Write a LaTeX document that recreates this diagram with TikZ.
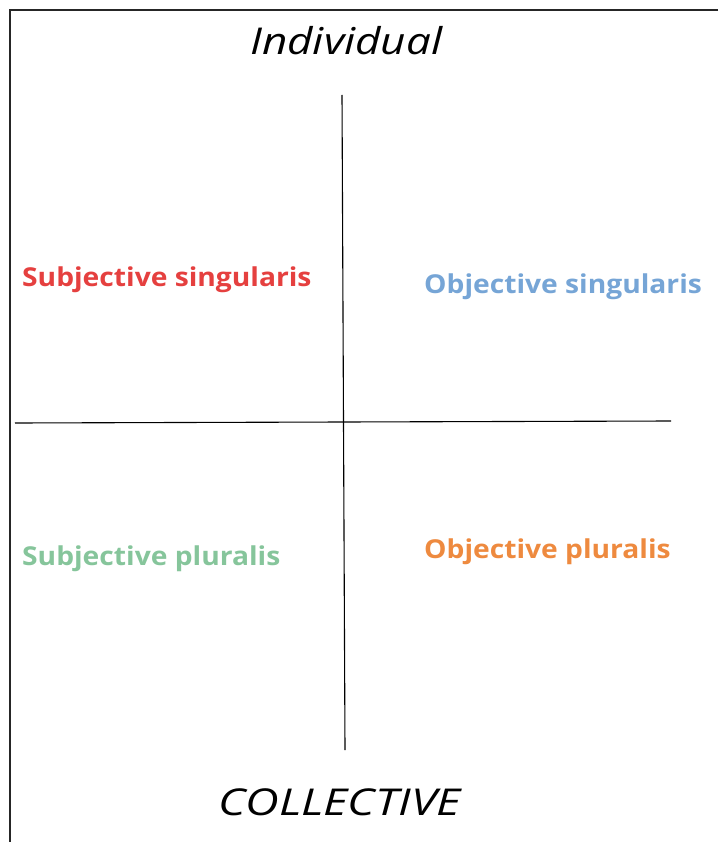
\documentclass[tikz,border=0pt]{standalone}
\usepackage{fontspec}
\setmainfont{Open Sans}
\definecolor{cred}{HTML}{E5403F}
\definecolor{cblue}{HTML}{76A5D6}
\definecolor{cgreen}{HTML}{86C59B}
\definecolor{corange}{HTML}{EE8A3F}
\newcommand{\wlbl}[1]{\scalebox{1.085}[1]{#1}}
\begin{document}
\begin{tikzpicture}[x=1pt,y=-1pt,
  lbl/.style={anchor=base west,inner sep=0pt,font=\fontsize{26}{30}\selectfont\bfseries},
  axis/.style={anchor=base west,inner sep=0pt,font=\fontsize{37}{42}\selectfont\itshape},
  frameline/.style={line width=1.5pt,black!85},
  divline/.style={line width=1.1pt,black}]
\useasboundingbox (0,0) rectangle (718,842);
\coordinate (tr) at (718,10);
\coordinate (tl) at (10,10);
\coordinate (bl) at (10,842);
\draw[frameline] (tr) -- (tl) -- (bl);
\coordinate (vt) at (342,95);
\coordinate (vb) at (345,750);
\coordinate (hl) at (15,423);
\coordinate (hr) at (671,421);
\draw[divline] (vt) -- (vb);
\draw[divline] (hl) -- (hr);
\node[axis] (ind) at (250,55) {\scalebox{1.19}[1]{Individual}};
\node[axis] (col) at (218,815) {\scalebox{1.26}[1]{COLLECTIVE}};
\node[lbl,text=cred] (ss) at (22,286) {\wlbl{Subjective singularis}};
\node[lbl,text=cblue] (os) at (424,293) {\wlbl{Objective singularis}};
\node[lbl,text=cgreen] (sp) at (22,565) {\wlbl{Subjective pluralis}};
\node[lbl,text=corange] (op) at (424,558) {\wlbl{Objective pluralis}};
\end{tikzpicture}
\end{document}
